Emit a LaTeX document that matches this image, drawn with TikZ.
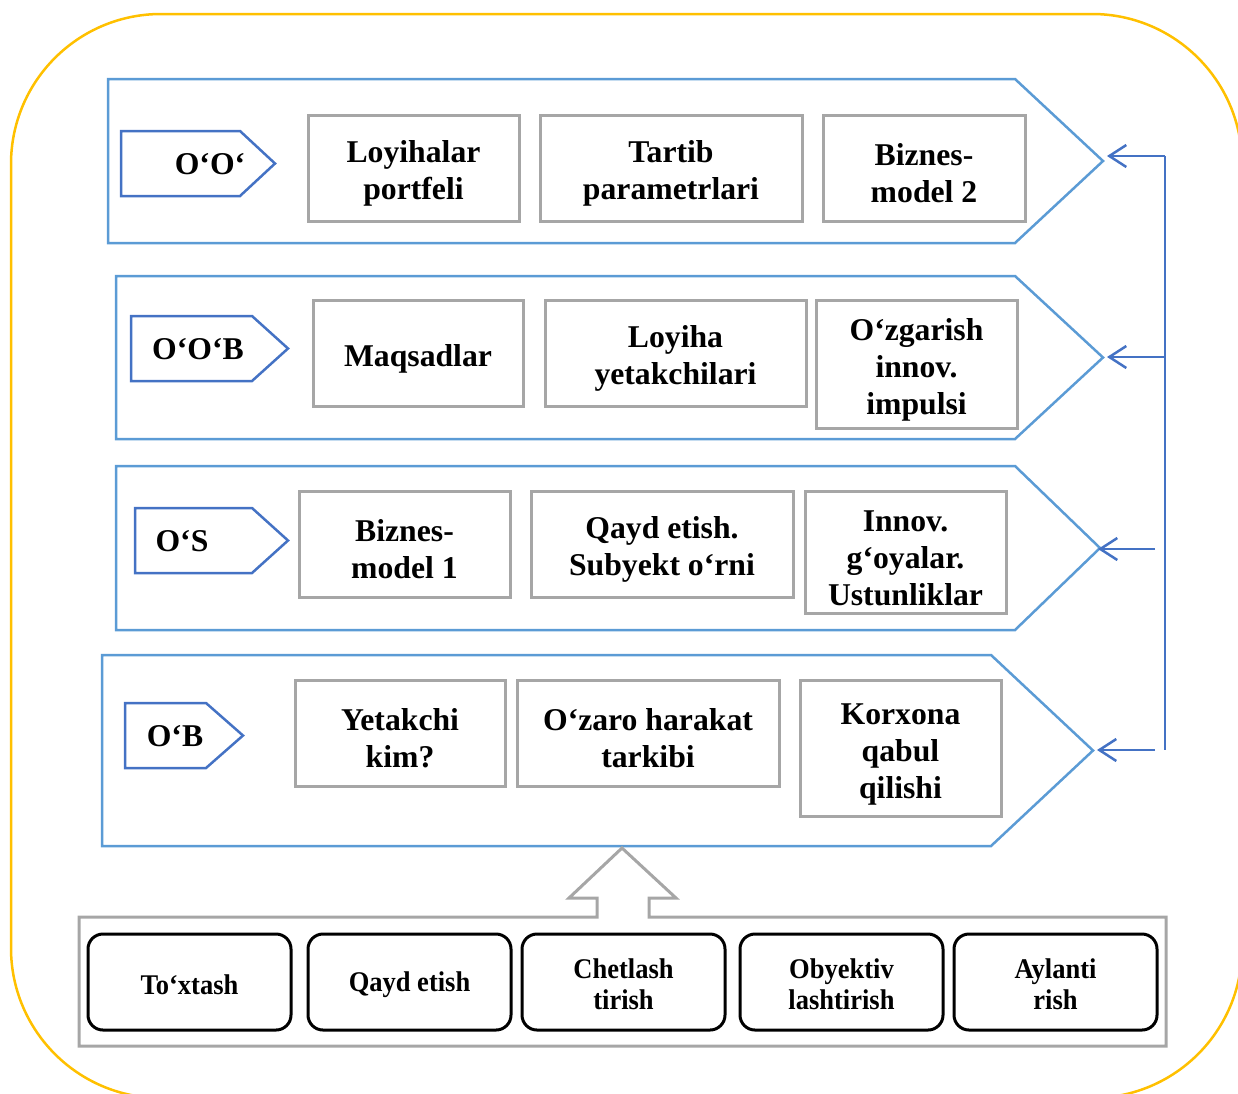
\documentclass[tikz,border=0pt]{standalone}
\usepackage{fontspec}
\setmainfont{Liberation Serif}
\newfontfamily\condserif[FakeStretch=0.93]{Liberation Serif}
\usetikzlibrary{arrows.meta}
\definecolor{frameyellow}{HTML}{FFC000}
\definecolor{stageblue}{HTML}{5B9BD5}
\definecolor{tagblue}{HTML}{4472C4}
\definecolor{cellgray}{HTML}{A6A6A6}
\newcommand\topstrut[1]{\rule{0pt}{#1}}

\begin{document}
\begin{tikzpicture}[x=1pt,y=-1pt,
  stage/.style={draw=stageblue,line width=2.5pt,line join=miter},
  tag/.style={draw=tagblue,line width=2.5pt},
  tagtext/.style={inner sep=0pt,font=\fontsize{31.7}{37}\selectfont\bfseries},
  cell/.style={draw=cellgray,line width=3pt,inner sep=0pt,align=center,font=\fontsize{31.7}{37}\selectfont\bfseries},
  actbox/.style={draw=black,line width=3pt,rounded corners=15pt,inner sep=0pt,align=center,
    minimum width=203pt,minimum height=96pt,font=\condserif\fontsize{28.5}{31}\selectfont\bfseries},
  fb/.style={draw=tagblue,line width=2.5pt},
  fbarrow/.style={fb,-{Straight Barb[length=17pt,width=22pt]}}]
  \useasboundingbox (0,0) rectangle (1238,1093);
  \clip (0,0) rectangle (1238,1093);
  \draw[frameyellow,line width=2.5pt,rounded corners=150pt] (11,14) rectangle (1242,1098);

  % the four stages
  \foreach \xl/\yt/\yb/\xs/\xp in {108/79/243/1015/1103, 116/276/439/1015/1103, 116/466/630/1015/1100, 102/655/846/991/1093}
    \draw[stage] (\xl,\yt) -- (\xs,\yt) -- (\xp,{(\yt+\yb)/2}) -- (\xs,\yb) -- (\xl,\yb) -- cycle;

  \foreach \xl/\yt/\xs/\xp/\lab/\xt [count=\i] in {121/131/240/275/O‘O‘/210, 131/316/252/288/O‘O‘B/198, 135/508/252/288/O‘S/182, 125/703/206/243/O‘B/175}
  {
    \draw[tag] (\xl,\yt) -- (\xs,\yt) -- (\xp,{\yt+32.5}) -- (\xs,{\yt+65}) -- (\xl,{\yt+65}) -- cycle;
    \node[tagtext] (tag\i) at (\xt,{\yt+33}) {\lab};
    }

  \foreach \n/\cx/\cy/\w/\h/\txt in {
    portfeli/413.5/168/211/106/{Loyihalar\\portfeli},
    tartib/671/168/262/106/{Tartib\\parametrlari},
    modelb/924/168/202/106/{Biznes-\\model 2},
    maqsad/418/353/210/106/{Maqsadlar},
    yetak/675.5/353/261/106/{Loyiha\\yetakchilari},
    impuls/916.5/364/201/128/{O‘zgarish\\innov.\\impulsi},
    modela/404.5/544/211/106/{Biznes-\\model 1},
    subyekt/662/544/262/106/{Qayd etish.\\Subyekt o‘rni},
    goya/905.5/552/201/122/{Innov.\\g‘oyalar.\\Ustunliklar},
    kim/400/733/210/106/{Yetakchi\\kim?},
    tarkib/648/733/262/106/{O‘zaro harakat\\tarkibi},
    qabul/900.5/748/201/136/{Korxona\\qabul\\qilishi}}
    \node[cell,minimum width=\w pt,minimum height=\h pt] (\n) at (\cx,\cy) {\topstrut{33pt}\txt};

  % feedback line
  \coordinate (fbtop) at (1165,156);
  \coordinate (fbmid) at (1165,357);
  \coordinate (fbbot) at (1165,750);
  \coordinate (fbc) at (1155,549);
  \coordinate (fbd) at (1155,750);
  \coordinate (in1) at (1107,156);
  \coordinate (in2) at (1107,357);
  \coordinate (in3) at (1098,549);
  \coordinate (in4) at (1097,750);
  \draw[fb] (fbtop) -- (fbbot);
  \draw[fbarrow] (fbtop) -- (in1);
  \draw[fbarrow] (fbmid) -- (in2);
  \draw[fbarrow] (fbc) -- (in3);
  \draw[fbarrow] (fbd) -- (in4);

  % base with the block arrow
  \draw[cellgray,line width=3pt] (79,917) -- (597,917) -- (597,898) -- (569,898) -- (622,848) -- (676,898)
    -- (649,898) -- (649,917) -- (1166,917) -- (1166,1046) -- (79,1046) -- cycle;

  \foreach \n/\cx/\txt in {toxtash/189.5/To‘xtash, qayd/409.5/Qayd etish, chetlash/623.5/{Chetlash\\tirish},
    obyektiv/841.5/{Obyektiv\\lashtirish}, aylanti/1055.5/{Aylanti\\rish}}
    \node[actbox] (\n) at (\cx,982) {\topstrut{25pt}\txt};
\end{tikzpicture}
\end{document}
